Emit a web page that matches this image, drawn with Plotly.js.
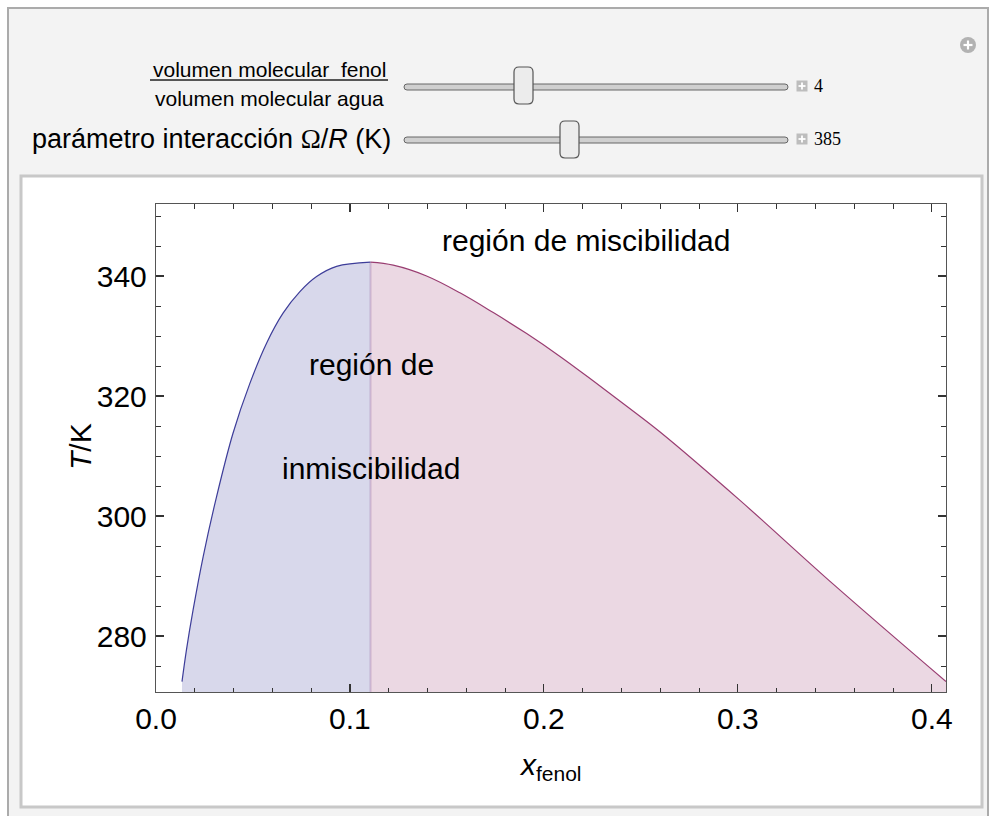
<!DOCTYPE html>
<html>
<head>
<meta charset="utf-8">
<script src="https://cdn.plot.ly/plotly-3.0.1.min.js"></script>
<style>html,body{margin:0;padding:0;background:#fff;}#chart{width:989px;height:816px;}</style>
</head>
<body>
<div id="chart"></div>
<script>
// ---- data ----
const leftX  = [0.0134, 0.0157, 0.0191, 0.0243, 0.0312, 0.0397, 0.0484, 0.0570, 0.0655, 0.0742, 0.0828, 0.0931, 0.1106];
const leftT  = [272.4, 277.7, 284.3, 293.2, 303.2, 313.8, 322.1, 328.8, 333.8, 337.4, 339.9, 341.6, 342.3];
const rightX = [0.1106, 0.1223, 0.1395, 0.1567, 0.1739, 0.1911, 0.2083, 0.2255, 0.2427, 0.2599, 0.3011, 0.3493, 0.4073];
const rightT = [342.3, 341.8, 340.0, 337.2, 333.9, 330.4, 326.6, 322.5, 318.3, 314.0, 302.6, 288.6, 272.4];
const xTickVals = [0.0, 0.1, 0.2, 0.3, 0.4];
const xTickText = ["0.0", "0.1", "0.2", "0.3", "0.4"];
const yTickVals = [280, 300, 320, 340];
const yTickText = ["280", "300", "320", "340"];
const sliderLabels = ["volumen molecular  fenol", "volumen molecular agua", "parámetro interacción"];
const sliderValues = ["4", "385"];
const regionLabels = ["región de miscibilidad", "región de", "inmiscibilidad"];

const W = 989, H = 816;
const M = {l: 156, r: 43, t: 204, b: 124};
const PW = W - M.l - M.r, PH = H - M.t - M.b;
const X = px => (px - M.l) / PW;
const Y = py => (H - M.b - py) / PH;
const yMin = 270.67, yMax = 352;

function rrect(x0, y0, x1, y1, r) {
  const p = (x, y) => X(x) + ',' + Y(y);
  return 'M' + p(x0 + r, y0) + ' L' + p(x1 - r, y0) + ' Q' + p(x1, y0) + ' ' + p(x1, y0 + r) +
    ' L' + p(x1, y1 - r) + ' Q' + p(x1, y1) + ' ' + p(x1 - r, y1) +
    ' L' + p(x0 + r, y1) + ' Q' + p(x0, y1) + ' ' + p(x0, y1 - r) +
    ' L' + p(x0, y0 + r) + ' Q' + p(x0, y0) + ' ' + p(x0 + r, y0) + ' Z';
}
function prect(x0, y0, x1, y1, fill, line, lw, layer) {
  return {type: 'rect', xref: 'paper', yref: 'paper', x0: X(x0), x1: X(x1), y0: Y(y1), y1: Y(y0),
    fillcolor: fill, line: {color: line, width: lw}, layer: layer || 'above'};
}
function pline(x0, y0, x1, y1, color, lw) {
  return {type: 'line', xref: 'paper', yref: 'paper', x0: X(x0), x1: X(x1), y0: Y(y0), y1: Y(y1),
    line: {color: color, width: lw}, layer: 'above'};
}
function plusBox(cx, cy) {
  return [prect(cx - 5.5, cy - 5.5, cx + 5.5, cy + 5.5, '#bdbdbd', 'rgba(0,0,0,0)', 0),
    pline(cx - 3.5, cy, cx + 3.5, cy, '#ffffff', 1.8), pline(cx, cy - 3.5, cx, cy + 3.5, '#ffffff', 1.8)];
}

const shapes = [
  prect(8, 8, 988, 840, '#f3f3f3', '#ababab', 2, 'below'),
  prect(21, 176, 982, 807, '#ffffff', '#c8c8c8', 3, 'below'),
  {type: 'path', xref: 'paper', yref: 'paper', path: rrect(404, 84, 788, 90, 3), fillcolor: '#cfcfcf', line: {color: '#666', width: 1}, layer: 'above'},
  {type: 'path', xref: 'paper', yref: 'paper', path: rrect(514, 67, 533, 104, 5), fillcolor: '#ececec', line: {color: '#555', width: 1.2}, layer: 'above'},
  {type: 'path', xref: 'paper', yref: 'paper', path: rrect(404, 137, 788, 143, 3), fillcolor: '#cfcfcf', line: {color: '#666', width: 1}, layer: 'above'},
  {type: 'path', xref: 'paper', yref: 'paper', path: rrect(560, 121, 579, 158, 5), fillcolor: '#ececec', line: {color: '#555', width: 1.2}, layer: 'above'},
  pline(150, 80, 388, 80, '#222', 1.3),
  ...plusBox(802, 86), ...plusBox(802, 139),
  {type: 'circle', xref: 'paper', yref: 'paper', x0: X(960), x1: X(976), y0: Y(53), y1: Y(37), fillcolor: '#b2b2b2', line: {width: 0}, layer: 'above'},
  pline(963.5, 45, 972.5, 45, '#ffffff', 2.2), pline(968, 40.5, 968, 49.5, '#ffffff', 2.2)
];

const traces = [
  {x: leftX, y: leftT, type: 'scatter', mode: 'lines', fill: 'tozeroy',
    fillcolor: 'rgba(61,61,153,0.2)', line: {color: '#3d3d99', width: 1.2, shape: 'spline', smoothing: 1}, hoverinfo: 'skip'},
  {x: rightX, y: rightT, type: 'scatter', mode: 'lines', fill: 'tozeroy',
    fillcolor: 'rgba(153,61,113,0.2)', line: {color: '#993d71', width: 1.2, shape: 'spline', smoothing: 1}, hoverinfo: 'skip'},
  {x: [leftX[leftX.length - 1], leftX[leftX.length - 1]], y: [leftT[leftT.length - 1], yMin],
    type: 'scatter', mode: 'lines', line: {color: 'rgba(130,70,140,0.25)', width: 2}, hoverinfo: 'skip'}
];

const sans = 'Liberation Sans, Arial, sans-serif';
const tickFont = {family: sans, size: 30, color: '#000'};

function ann(o) { return Object.assign({showarrow: false, xanchor: 'center', yanchor: 'middle'}, o); }

const annotations = [
  ann({xref: 'x', yref: 'y', x: 0.222, y: 346, text: regionLabels[0], font: tickFont}),
  ann({xref: 'x', yref: 'y', x: 0.111, y: 325.2, text: regionLabels[1], font: tickFont}),
  ann({xref: 'x', yref: 'y', x: 0.111, y: 308, text: regionLabels[2], font: tickFont}),
  ann({xref: 'paper', yref: 'paper', x: X(80), y: Y(447), text: '<i>T</i>/K', textangle: -90, font: tickFont}),
  ann({xref: 'paper', yref: 'paper', x: X(550), y: Y(766), text: '<i>x</i><sub>fenol</sub>', font: tickFont}),
  ann({xref: 'paper', yref: 'paper', x: X(269), y: Y(69), text: sliderLabels[0], font: {family: sans, size: 21, color: '#000'}}),
  ann({xref: 'paper', yref: 'paper', x: X(269), y: Y(98), text: sliderLabels[1], font: {family: sans, size: 21, color: '#000'}}),
  ann({xref: 'paper', yref: 'paper', x: X(393), y: Y(139), xanchor: 'right', text: sliderLabels[2] + ' <span style="font-family:Liberation Serif">Ω</span>/<i>R</i> (K)', font: {family: sans, size: 27, color: '#000'}}),
  ann({xref: 'paper', yref: 'paper', x: X(812), y: Y(86), xanchor: 'left', text: sliderValues[0], font: {family: 'Liberation Serif, serif', size: 18, color: '#000'}}),
  ann({xref: 'paper', yref: 'paper', x: X(812), y: Y(139), xanchor: 'left', text: sliderValues[1], font: {family: 'Liberation Serif, serif', size: 18, color: '#000'}})
];

const axisCommon = {showline: true, mirror: 'ticks', linecolor: '#555', linewidth: 1.2, ticks: 'inside',
  tickcolor: '#333', tickwidth: 1.1, showgrid: false, zeroline: false, tickfont: tickFont, fixedrange: true};

const layout = {
  width: W, height: H, margin: M, showlegend: false,
  paper_bgcolor: '#ffffff', plot_bgcolor: '#ffffff',
  xaxis: Object.assign({}, axisCommon, {range: [0, 0.4073], tickvals: xTickVals, ticktext: xTickText, ticklen: 8,
    ticklabelstandoff: 0,
    minor: {dtick: 0.02, tick0: 0, ticks: 'inside', ticklen: 4.5, tickcolor: '#333', tickwidth: 1, showgrid: false}}),
  yaxis: Object.assign({}, axisCommon, {range: [yMin, yMax], tickvals: yTickVals, ticktext: yTickText, ticklen: 8,
    ticklabelstandoff: 2,
    minor: {dtick: 5, tick0: 280, ticks: 'inside', ticklen: 5, tickcolor: '#333', tickwidth: 1, showgrid: false}}),
  shapes: shapes, annotations: annotations
};

Plotly.newPlot('chart', traces, layout, {displayModeBar: false, staticPlot: true});
</script>
</body>
</html>
